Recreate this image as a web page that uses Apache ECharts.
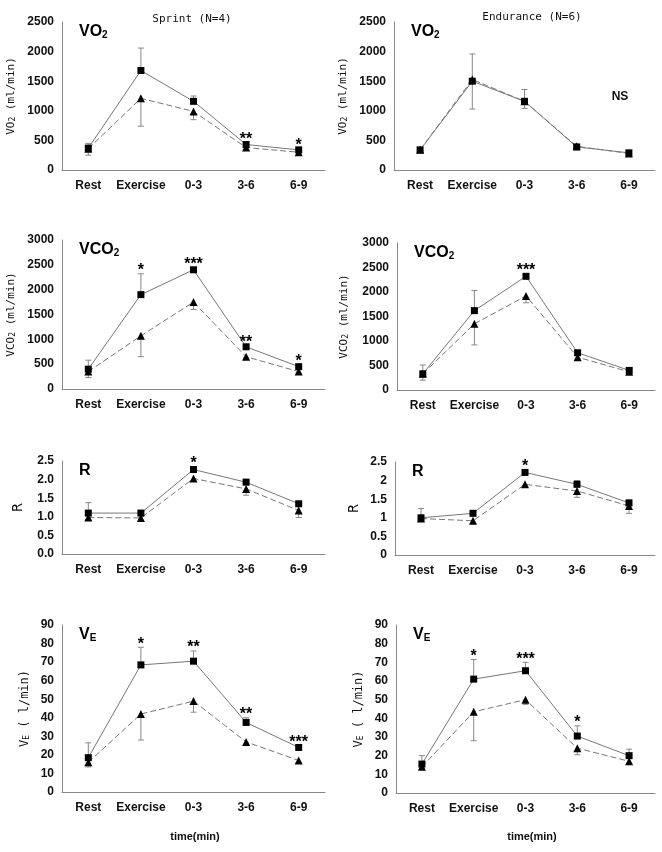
<!DOCTYPE html>
<html>
<head>
<meta charset="utf-8">
<script src="https://cdn.jsdelivr.net/npm/echarts@6/dist/echarts.min.js"></script>
<style>
  html, body { margin: 0; padding: 0; background: #fff; }
  #chart { width: 662px; height: 852px; }
</style>
</head>
<body>
<div id="chart"></div>
<script>
// categories on every x axis
const categories = ["Rest", "Exercise", "0-3", "3-6", "6-9"];

// Sprint (N=4)
const sprintVO2Sq = [370, 1680, 1160, 430, 340];
const sprintVO2SqErr = [80, 380, 90, 40, 30];
const sprintVO2Tri = [360, 1210, 990, 380, 300];
const sprintVO2TriErr = [110, 470, 140, 30, 30];
const sprintVO2Stars = ["", "", "", "**", "*"];

const sprintVCO2Sq = [400, 1900, 2400, 850, 450];
const sprintVCO2SqErr = [180, 420, 50, 30, 40];
const sprintVCO2Tri = [350, 1070, 1750, 650, 350];
const sprintVCO2TriErr = [120, 420, 150, 20, 30];
const sprintVCO2Stars = ["", "*", "***", "**", "*"];

const sprintRSq = [1.1, 1.1, 2.27, 1.93, 1.35];
const sprintRSqErr = [0.28, 0.05, 0.07, 0.08, 0.06];
const sprintRTri = [0.98, 0.97, 2.03, 1.75, 1.17];
const sprintRTriErr = [0.05, 0.09, 0.05, 0.17, 0.19];
const sprintRStars = ["", "", "*", "", ""];

const sprintVESq = [18.5, 68.5, 70.5, 37.5, 24];
const sprintVESqErr = [8, 9.5, 5.5, 2.5, 1];
const sprintVETri = [16, 42, 49, 27, 17];
const sprintVETriErr = [2.5, 14, 6, 2, 1];
const sprintVEStars = ["", "*", "**", "**", "***"];

// Endurance (N=6)
const endVO2Sq = [340, 1500, 1160, 390, 290];
const endVO2SqErr = [20, 460, 200, 20, 20];
const endVO2Tri = [340, 1530, 1160, 400, 280];
const endVO2TriErr = [20, 500, 120, 20, 20];
const endVO2Stars = ["", "", "", "", ""];

const endVCO2Sq = [330, 1620, 2320, 760, 400];
const endVCO2SqErr = [180, 410, 50, 30, 30];
const endVCO2Tri = [330, 1350, 1920, 670, 370];
const endVCO2TriErr = [130, 430, 140, 30, 30];
const endVCO2Stars = ["", "", "***", "", ""];

const endRSq = [1.0, 1.12, 2.22, 1.9, 1.4];
const endRSqErr = [0.25, 0.08, 0.07, 0.1, 0.08];
const endRTri = [0.98, 0.92, 1.9, 1.72, 1.32];
const endRTriErr = [0.03, 0.08, 0.05, 0.17, 0.2];
const endRStars = ["", "", "*", "", ""];

const endVESq = [15.5, 61, 65.5, 30.5, 20];
const endVESqErr = [4.5, 10.5, 4.5, 5.5, 3.5];
const endVETri = [14, 43.5, 50, 24, 17];
const endVETriErr = [1, 15.5, 2.5, 3.5, 1.5];
const endVEStars = ["", "*", "***", "*", ""];

const panels = [
    { sq: sprintVO2Sq, sqErr: sprintVO2SqErr, tri: sprintVO2Tri, triErr: sprintVO2TriErr, stars: sprintVO2Stars,
      grid: { left: 62, top: 22, width: 263, height: 148 }, max: 2500, interval: 500, dec: 0,
      name: "VO{s|2} (ml/min)", nameGap: 45, nameSize: 11, label: "VO{s|2}" },
    { sq: endVO2Sq, sqErr: endVO2SqErr, tri: endVO2Tri, triErr: endVO2TriErr, stars: endVO2Stars,
      grid: { left: 394, top: 22, width: 261, height: 148 }, max: 2500, interval: 500, dec: 0,
      name: "VO{s|2} (ml/min)", nameGap: 45, nameSize: 11, label: "VO{s|2}" },
    { sq: sprintVCO2Sq, sqErr: sprintVCO2SqErr, tri: sprintVCO2Tri, triErr: sprintVCO2TriErr, stars: sprintVCO2Stars,
      grid: { left: 62, top: 240, width: 263, height: 149 }, max: 3000, interval: 500, dec: 0,
      name: "VCO{s|2} (ml/min)", nameGap: 45, nameSize: 11, label: "VCO{s|2}" },
    { sq: endVCO2Sq, sqErr: endVCO2SqErr, tri: endVCO2Tri, triErr: endVCO2TriErr, stars: endVCO2Stars,
      grid: { left: 397, top: 243, width: 258, height: 147 }, max: 3000, interval: 500, dec: 0,
      name: "VCO{s|2} (ml/min)", nameGap: 47, nameSize: 11, label: "VCO{s|2}" },
    { sq: sprintRSq, sqErr: sprintRSqErr, tri: sprintRTri, triErr: sprintRTriErr, stars: sprintRStars,
      grid: { left: 62, top: 461, width: 263, height: 93 }, max: 2.5, interval: 0.5, dec: 1,
      name: "R", nameGap: 37, nameSize: 14, label: "R" },
    { sq: endRSq, sqErr: endRSqErr, tri: endRTri, triErr: endRTriErr, stars: endRStars,
      grid: { left: 395, top: 462, width: 260, height: 93 }, max: 2.5, interval: 0.5, dec: -1,
      name: "R", nameGap: 34, nameSize: 14, label: "R" },
    { sq: sprintVESq, sqErr: sprintVESqErr, tri: sprintVETri, triErr: sprintVETriErr, stars: sprintVEStars,
      grid: { left: 62, top: 625, width: 263, height: 167 }, max: 90, interval: 10, dec: 0,
      name: "V{s|E} ( l/min)", nameGap: 31, nameSize: 12, label: "V{s|E}" },
    { sq: endVESq, sqErr: endVESqErr, tri: endVETri, triErr: endVETriErr, stars: endVEStars,
      grid: { left: 396, top: 625, width: 259, height: 168 }, max: 90, interval: 10, dec: 0,
      name: "V{s|E} ( l/min)", nameGap: 31, nameSize: 12, label: "V{s|E}" }
];

const axisColor = "#888";
const lineColor = "#777";
const font = "Liberation Sans";
const mono = "DejaVu Sans Mono";

function errorRender(params, api) {
    const i = api.value(0);
    const from = api.coord([i, api.value(1)]);
    const to = api.coord([i, api.value(2)]);
    const style = { stroke: "#888", lineWidth: 1 };
    return {
        type: "group",
        children: [
            { type: "line", shape: { x1: from[0], y1: from[1], x2: to[0], y2: to[1] }, style: style },
            { type: "line", shape: { x1: to[0] - 3, y1: to[1], x2: to[0] + 3, y2: to[1] }, style: style }
        ]
    };
}

let grids = [], xAxes = [], yAxes = [], series = [], titles = [];

panels.forEach((p, k) => {
    grids.push(p.grid);
    xAxes.push({
        type: "category", gridIndex: k, data: categories, boundaryGap: true,
        axisLine: { lineStyle: { color: axisColor, width: 1 } },
        axisTick: { inside: true, length: 3, interval: 0, lineStyle: { color: axisColor } },
        axisLabel: { color: "#111", fontFamily: font, fontWeight: "bold", fontSize: 12, margin: 10, interval: 0 }
    });
    yAxes.push({
        type: "value", gridIndex: k, min: 0, max: p.max, interval: p.interval,
        splitLine: { show: false },
        axisLine: { show: true, lineStyle: { color: axisColor, width: 1 } },
        axisTick: { show: false },
        axisLabel: {
            color: "#111", fontFamily: font, fontWeight: "bold", fontSize: 12, margin: 8,
            formatter: v => p.dec < 0 ? String(+v.toFixed(1)) : v.toFixed(p.dec)
        },
        name: p.name, nameLocation: "middle", nameGap: p.nameGap,
        nameTextStyle: {
            color: "#111", fontFamily: mono, fontSize: p.nameSize,
            rich: { s: { fontSize: 8, verticalAlign: "bottom", fontFamily: mono, color: "#111" } }
        }
    });

    // square series (solid) and triangle series (dashed)
    series.push({
        type: "line", xAxisIndex: k, yAxisIndex: k, data: p.tri, z: 3,
        symbol: "triangle", symbolSize: 8, itemStyle: { color: "#000" },
        lineStyle: { color: lineColor, width: 1, type: [6, 3] }
    });
    series.push({
        type: "line", xAxisIndex: k, yAxisIndex: k, data: p.sq, z: 4,
        symbol: "rect", symbolSize: 7, itemStyle: { color: "#000" },
        lineStyle: { color: lineColor, width: 1 }
    });
    series.push({
        type: "custom", xAxisIndex: k, yAxisIndex: k, z: 2, renderItem: errorRender,
        data: p.sq.map((v, i) => [i, v, v + p.sqErr[i]])
    });
    series.push({
        type: "custom", xAxisIndex: k, yAxisIndex: k, z: 2, renderItem: errorRender,
        data: p.tri.map((v, i) => [i, v, v - p.triErr[i]])
    });
    // significance marks
    series.push({
        type: "custom", xAxisIndex: k, yAxisIndex: k, z: 5,
        renderItem: (params, api) => {
            const i = api.value(0);
            const pt = api.coord([i, api.value(1)]);
            return {
                type: "text", x: pt[0], y: pt[1] + 5,
                style: { text: p.stars[i], fill: "#000", font: "bold 16px Liberation Sans", align: "center", verticalAlign: "bottom" }
            };
        },
        data: p.sq.map((v, i) => [i, Math.max(v + p.sqErr[i], p.tri[i])])
    });

    titles.push({
        text: p.label, left: p.grid.left + 12, top: p.grid.top - 3,
        textStyle: {
            fontFamily: font, fontWeight: "bold", fontSize: 16, color: "#000",
            rich: { s: { fontSize: 10, fontWeight: "bold", verticalAlign: "bottom", fontFamily: font, color: "#000", padding: [6, 0, 0, 0] } }
        }
    });
});

titles.push(
    { text: "Sprint (N=4)", left: 187, top: 9, textAlign: "center",
      textStyle: { fontFamily: mono, fontWeight: "normal", fontSize: 11, color: "#111" } },
    { text: "Endurance (N=6)", left: 527, top: 7, textAlign: "center",
      textStyle: { fontFamily: mono, fontWeight: "normal", fontSize: 11, color: "#111" } },
    { text: "NS", left: 615, top: 86, textAlign: "center",
      textStyle: { fontFamily: font, fontWeight: "bold", fontSize: 12, color: "#111" } },
    { text: "time(min)", left: 190, top: 826, textAlign: "center",
      textStyle: { fontFamily: font, fontWeight: "bold", fontSize: 11, color: "#111" } },
    { text: "time(min)", left: 527, top: 826, textAlign: "center",
      textStyle: { fontFamily: font, fontWeight: "bold", fontSize: 11, color: "#111" } }
);

const myChart = echarts.init(document.getElementById("chart"));
myChart.setOption({
    animation: false,
    backgroundColor: "#fff",
    title: titles,
    grid: grids,
    xAxis: xAxes,
    yAxis: yAxes,
    series: series
});
</script>
</body>
</html>
